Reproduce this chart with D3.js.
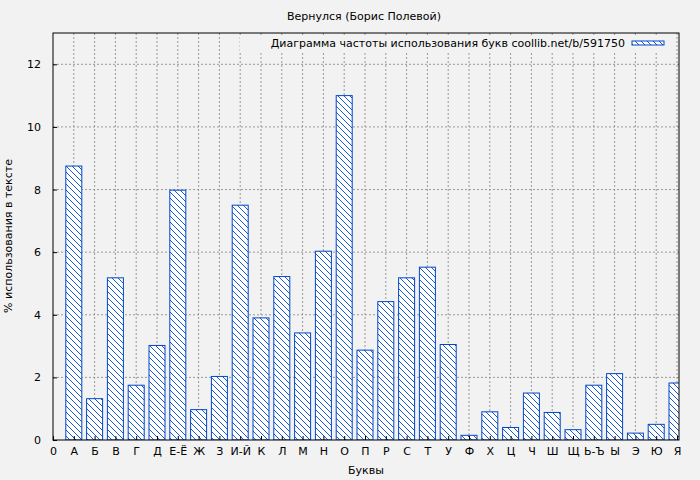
<!DOCTYPE html>
<html><head><meta charset="utf-8">
<script src="https://cdn.jsdelivr.net/npm/d3@7"></script>
<style>body{margin:0;background:#f2f2f2}text{font-family:"DejaVu Sans",sans-serif;font-size:11px}</style>
</head><body><svg id="c" width="700" height="480"></svg>
<script>
let labels = ['0','А','Б','В','Г','Д','Е-Ё','Ж','З','И-Й','К','Л','М','Н','О','П','Р','С','Т','У','Ф','Х','Ц','Ч','Ш','Щ','Ь-Ъ','Ы','Э','Ю','Я'];
let values = [8.75,1.32,5.18,1.75,3.02,7.98,0.97,2.03,7.5,3.9,5.22,3.42,6.03,11.0,2.87,4.42,5.18,5.52,3.05,0.15,0.9,0.4,1.5,0.88,0.33,1.75,2.12,0.22,0.5,1.82];
let yTicks = [0,2,4,6,8,10,12];

let margin = { top: 33, right: 21, bottom: 40, left: 53 };
let width = 700 - margin.left - margin.right;
let height = 480 - margin.top - margin.bottom;

let root = d3.select('#c');
root.append('rect').attr('width',700).attr('height',480).attr('fill','#f2f2f2');
let defs = root.append('defs');
let pat = defs.append('pattern').attr('id','hatch').attr('patternUnits','userSpaceOnUse')
  .attr('width',6).attr('height',6);
pat.append('rect').attr('width',6).attr('height',6).attr('fill','#fff');
pat.append('path').attr('d','M-1,-1 L7,7 M-1,5 L1,7 M5,-1 L7,1').attr('stroke','#0046c8').attr('stroke-width',0.9);
defs.append('clipPath').attr('id','clip').append('rect').attr('width',width).attr('height',height);

let svg = root.append('g').attr('transform',`translate(${margin.left},${margin.top})`);

let x = d3.scaleLinear().domain([0,30]).range([0,624]);
let y = d3.scaleLinear().domain([0,13]).range([height,0]);

// grid
svg.selectAll('.gx').data(d3.range(1,31)).enter().append('line')
  .attr('x1',d=>x(d)).attr('x2',d=>x(d)).attr('y1',0).attr('y2',height)
  .attr('stroke','#999').attr('stroke-dasharray','2,2');
svg.selectAll('.gy').data(yTicks.slice(1)).enter().append('line')
  .attr('x1',0).attr('x2',width).attr('y1',d=>y(d)).attr('y2',d=>y(d))
  .attr('stroke','#999').attr('stroke-dasharray','2,2');

svg.append('g').attr('clip-path','url(#clip)').selectAll('rect').data(values).enter().append('rect')
  .attr('x',(d,i)=>x(i+1)-8).attr('width',16)
  .attr('y',d=>y(d)).attr('height',d=>height-y(d))
  .attr('fill','url(#hatch)').attr('stroke','#0046c8').attr('stroke-width',1);

svg.append('rect').attr('width',width).attr('height',height).attr('fill','none').attr('stroke','#000');

let xAxis = svg.append('g').attr('transform',`translate(0,${height})`)
  .call(d3.axisBottom(x).tickValues(d3.range(0,31)).tickFormat(i=>labels[i]).tickSize(-4));
let yAxis = svg.append('g').call(d3.axisLeft(y).tickValues(yTicks).tickSize(-4));
[xAxis,yAxis].forEach(a=>{a.select('.domain').remove();a.selectAll('text').attr('fill','#000').style('font-size','11px');});
xAxis.selectAll('text').attr('dy','1.1em');
yAxis.selectAll('text').attr('x',-12);

root.append('text').attr('x',364).attr('y',20).attr('text-anchor','middle').text('Вернулся (Борис Полевой)');
root.append('text').attr('x',366).attr('y',474).attr('text-anchor','middle').text('Буквы');
root.append('text').attr('transform','translate(12,236) rotate(-90)').attr('text-anchor','middle').text('% использования в тексте');

// legend
root.append('rect').attr('x',240).attr('y',36).attr('width',432).attr('height',16).attr('fill','#f2f2f2');
root.append('text').attr('x',625).attr('y',47).attr('text-anchor','end').text('Диаграмма частоты использования букв coollib.net/b/591750');
root.append('rect').attr('x',632).attr('y',41).attr('width',32).attr('height',4)
  .attr('fill','url(#hatch)').attr('stroke','#0046c8');
</script></body></html>
